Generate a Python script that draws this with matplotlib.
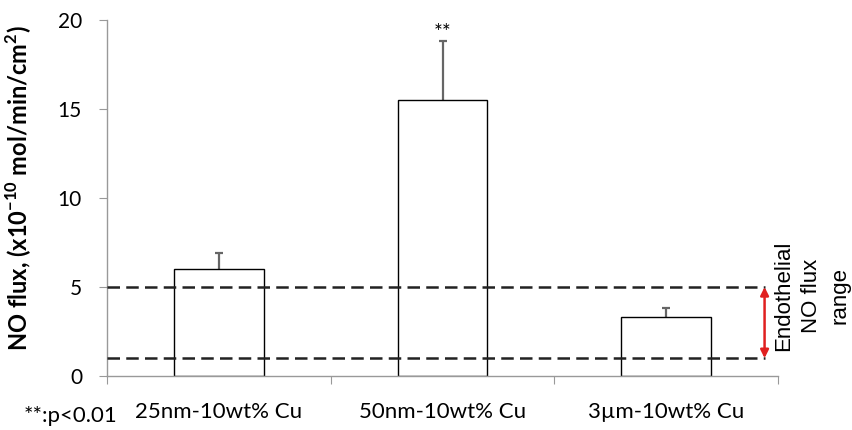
import matplotlib
matplotlib.use("Agg")
import matplotlib.pyplot as plt

categories = ["25nm-10wt% Cu", "50nm-10wt% Cu", "3µm-10wt% Cu"]
values = [6.0, 15.5, 3.3]
err_up = [0.9, 3.3, 0.5]
range_low, range_high = 1.0, 5.0
yticks = [0, 5, 10, 15, 20]

plt.rcParams['font.family'] = ['Lato', 'DejaVu Sans']

fig = plt.figure(figsize=(8.52, 4.30), dpi=100)
ax = fig.add_axes([107/852, 54/430, 671/852, 356/430])

x = list(range(len(categories)))
ax.bar(x, values, width=0.40, color='white', edgecolor='black', linewidth=1.0, zorder=2)
tops = [v + e for v, e in zip(values, err_up)]
ax.vlines(x, values, tops, color='#666666', lw=1.6, zorder=1)
ax.scatter(x, tops, marker='_', s=30, color='#666666', linewidths=1.6, zorder=1)

xend = 2.44
ax.plot([-0.5, xend], [range_high, range_high], ls=(0, (5, 2.5)), color='#222222', lw=1.8, zorder=3)
ax.plot([-0.5, xend], [range_low, range_low], ls=(0, (5, 2.5)), color='#222222', lw=1.8, zorder=3)
ax.annotate('', xy=(xend, range_high), xytext=(xend, range_low),
            arrowprops=dict(arrowstyle='<|-|>', color='#e02020', lw=1.8, mutation_scale=12,
                            shrinkA=0, shrinkB=0), annotation_clip=False)
ax.text(2.65, 4.5, "Endothelial\nNO flux\nrange", rotation=90, ha='center', va='center',
        multialignment='center', fontsize=16, family=['Liberation Sans', 'DejaVu Sans'],
        linespacing=1.45, clip_on=False)

ax.text(1, tops[1] - 0.1, "**", ha='center', va='bottom', fontsize=15)

ax.set_xlim(-0.5, 2.5)
ax.set_ylim(0, 20)
ax.set_yticks(yticks)
ax.set_yticklabels([str(t) for t in yticks], fontsize=15)
ax.set_xticks([-0.5, 0.5, 1.5, 2.5])
ax.set_xticklabels([])
ax.set_xticks(x, minor=True)
ax.set_xticklabels(categories, minor=True, fontsize=16)
ax.tick_params(axis='x', which='minor', length=0, pad=19)
ax.tick_params(axis='x', which='major', length=6, color='#999999')
ax.tick_params(axis='y', length=6, color='#999999', pad=12)
for s in ['top', 'right']:
    ax.spines[s].set_visible(False)
for s in ['left', 'bottom']:
    ax.spines[s].set_color('#999999')
    ax.spines[s].set_linewidth(1.0)

fig.text(19/852, 1 - 188/430, "NO flux, (x10$^{\\mathregular{-10}}$ mol/min/cm$^{\\mathregular{2}}$)", rotation=90,
         ha='center', va='center', fontsize=17, fontweight='bold')
fig.text(24/852, 1 - 416/430, "**:p<0.01", fontsize=16, va='center', ha='left')

fig.savefig("out.png", dpi=100)
